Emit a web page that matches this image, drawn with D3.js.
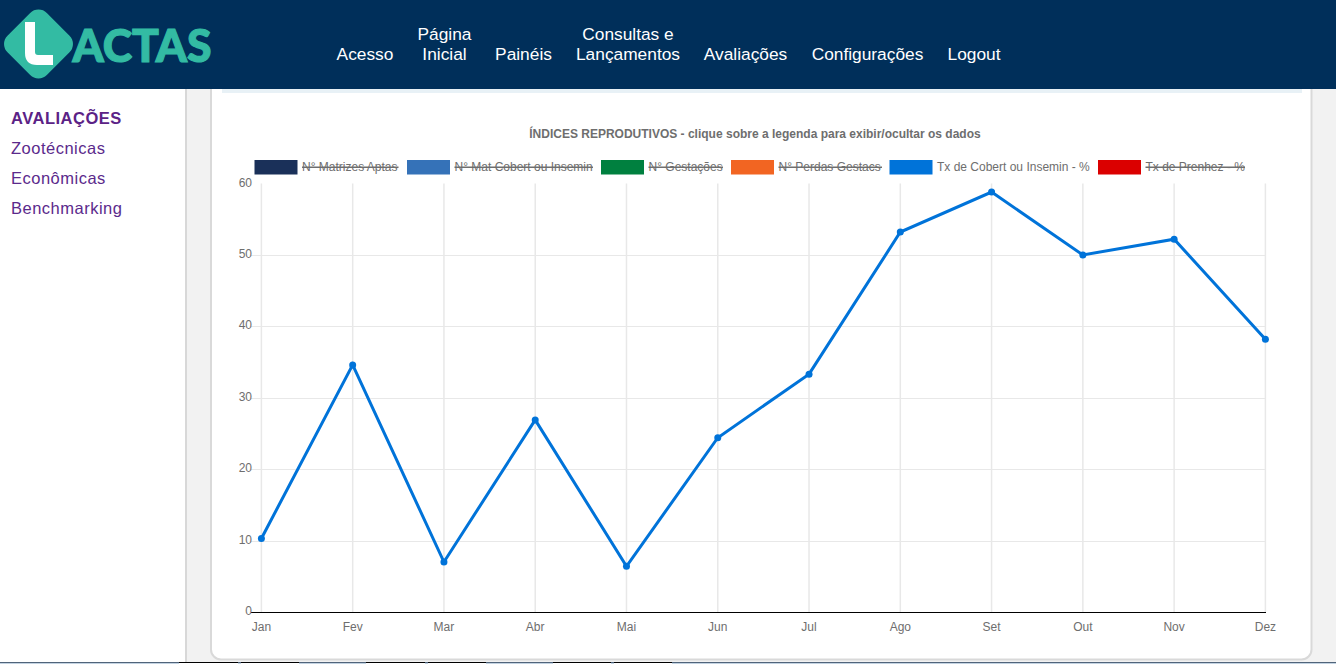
<!DOCTYPE html>
<html><head><meta charset="utf-8">
<script src="https://cdn.jsdelivr.net/npm/d3@7/dist/d3.min.js"></script>
<style>html,body{margin:0;padding:0;background:#f2f2f2;overflow:hidden}svg{display:block}text{font-family:"Liberation Sans",Arial,sans-serif}</style>
</head><body><div id="c"></div>
<script>
const months=["Jan","Fev","Mar","Abr","Mai","Jun","Jul","Ago","Set","Out","Nov","Dez"];
const taxaCobertura=[10.3,34.6,7,26.9,6.4,24.4,33.3,53.2,58.8,50,52.2,38.2];
const yTicks=[0,10,20,30,40,50,60];
const legendLabels=["N° Matrizes Aptas","N° Mat Cobert ou Insemin","N° Gestações","N° Perdas Gestacs","Tx de Cobert ou Insemin - %","Tx de Prenhez - %"];
const legendColors=["#1a3059","#3572b8","#00803f","#f26522","#0073d9","#db0000"];
const legendHidden=[true,true,true,true,false,true];
const navLabels=[["Acesso"],["Página","Inicial"],["Painéis"],["Consultas e","Lançamentos"],["Avaliações"],["Configurações"],["Logout"]];
const sideLabels=["Zootécnicas","Econômicas","Benchmarking"];
const title="ÍNDICES REPRODUTIVOS - clique sobre a legenda para exibir/ocultar os dados";

const svg=d3.select("#c").append("svg").attr("width",1336).attr("height",664);
svg.append("rect").attr("width",1336).attr("height",664).attr("fill","#f2f2f2");
// sidebar
svg.append("rect").attr("x",0).attr("y",89).attr("width",185).attr("height",575).attr("fill","#fff");
svg.append("rect").attr("x",185).attr("y",89).attr("width",2).attr("height",575).attr("fill","#d8d8d8");
// card
svg.append("rect").attr("x",211).attr("y",70).attr("width",1100.5).attr("height",589.5).attr("rx",10)
  .attr("fill","#fff").attr("stroke","#d9d9d9").attr("stroke-width",2);
svg.append("rect").attr("x",222).attr("y",89).attr("width",1080).attr("height",4).attr("fill","#e8f1f6");
// header
svg.append("rect").attr("width",1336).attr("height",89).attr("fill","#002f5a");
// logo
const logo=svg.append("g");
logo.append("rect").attr("x",-26).attr("y",-26).attr("width",52).attr("height",52).attr("rx",11)
  .attr("transform","translate(38.5,44) rotate(45) scale(1.07)").attr("fill","#33bba3");
logo.append("path").attr("d","M25 22h10v30q0 3 3 3h15v10H37q-12 0-12-12z").attr("fill","#fff");
logo.append("text").attr("x",72.5).attr("y",62).attr("font-size",45.5).attr("font-weight",900)
  .attr("textLength",139).attr("lengthAdjust","spacingAndGlyphs").attr("fill","#33bba3")
  .attr("stroke","#33bba3").attr("stroke-width",1.2)
  .style("font-family","Lato").text("ACTAS");
// nav
const navX=[365,444.5,523.5,628,745.5,867.5,974];
navLabels.forEach((l,i)=>{
  l.forEach((t,j)=>svg.append("text").attr("x",navX[i]).attr("y",60-(l.length-1-j)*20.5)
    .attr("text-anchor","middle").attr("font-size",17.33).attr("fill","#fff").text(t));
});
// side menu
svg.append("text").attr("x",11).attr("y",124).attr("font-size",16.5).attr("font-weight",700)
  .attr("fill","#5b2286").attr("letter-spacing",0.5).text("AVALIAÇÕES");
sideLabels.forEach((t,i)=>svg.append("text").attr("x",11).attr("y",154+i*30).attr("font-size",16.5)
  .attr("fill","#5b2a8c").attr("letter-spacing",0.5).text(t));
// chart
const x=d3.scalePoint().domain(months).range([261.4,1265.4]);
const y=d3.scaleLinear().domain([0,60]).range([612,183.5]);
const tc="#6e6e6e";
const grid=svg.append("g");
grid.selectAll("line.v").data(months).join("line").attr("class","v")
  .attr("x1",d=>x(d)).attr("x2",d=>x(d)).attr("y1",y(60)).attr("y2",y(0)).attr("stroke","#e8e8e8").attr("stroke-width",1.5);
grid.selectAll("line.h").data(yTicks.filter(d=>d>0&&d<60)).join("line").attr("class","h")
  .attr("x1",251).attr("x2",1266).attr("y1",d=>Math.round(y(d))+.5).attr("y2",d=>Math.round(y(d))+.5).attr("stroke","#e8e8e8");
svg.append("line").attr("x1",251).attr("x2",1266).attr("y1",612.5).attr("y2",612.5).attr("stroke","#000").attr("stroke-width",1);
svg.selectAll("text.yt").data(yTicks).join("text").attr("class","yt").attr("x",252).attr("y",d=>y(d)+3)
  .attr("text-anchor","end").attr("font-size",12).attr("fill",tc).text(d=>d);
svg.selectAll("text.xt").data(months).join("text").attr("class","xt").attr("x",d=>x(d)).attr("y",631)
  .attr("text-anchor","middle").attr("font-size",12).attr("fill",tc).text(d=>d);
// title
svg.append("text").attr("x",755).attr("y",138).attr("text-anchor","middle").attr("font-size",12)
  .attr("font-weight",700).attr("fill",tc).text(title);
// legend
const legendX=[254.5,407,601,731,889.5,1098];
const legendW=[144,186,122,151,200,147];
legendLabels.forEach((t,i)=>{
  svg.append("rect").attr("x",legendX[i]).attr("y",160).attr("width",43).attr("height",14.5).attr("fill",legendColors[i]);
  svg.append("text").attr("x",legendX[i]+47.5).attr("y",171).attr("font-size",12).attr("fill",tc).text(t);
  if(legendHidden[i]) svg.append("rect").attr("x",legendX[i]+47.5).attr("y",166.5).attr("width",legendW[i]-47.5).attr("height",1.5).attr("fill",tc);
});
// line
const line=d3.line().x((d,i)=>x(months[i])).y(d=>y(d));
svg.append("path").datum(taxaCobertura).attr("d",line).attr("fill","none").attr("stroke","#0073d9").attr("stroke-width",3);
svg.selectAll("circle.p").data(taxaCobertura).join("circle").attr("class","p")
  .attr("cx",(d,i)=>x(months[i])).attr("cy",d=>y(d)).attr("r",3.5).attr("fill","#0073d9");
// bottom edge
svg.append("rect").attr("x",0).attr("y",662).attr("width",1336).attr("height",2).attr("fill","#c3d3e2");
svg.append("rect").attr("x",0).attr("y",662).attr("width",1336).attr("height",1).attr("fill","#50647a");
[[179,59],[241,58],[366,59],[428,58],[553,58],[614,58]].forEach(s=>{
  svg.append("rect").attr("x",s[0]).attr("y",662).attr("width",s[1]).attr("height",2).attr("fill","#fff");
  svg.append("rect").attr("x",s[0]).attr("y",662).attr("width",s[1]).attr("height",1).attr("fill","#000");
});
</script></body></html>
